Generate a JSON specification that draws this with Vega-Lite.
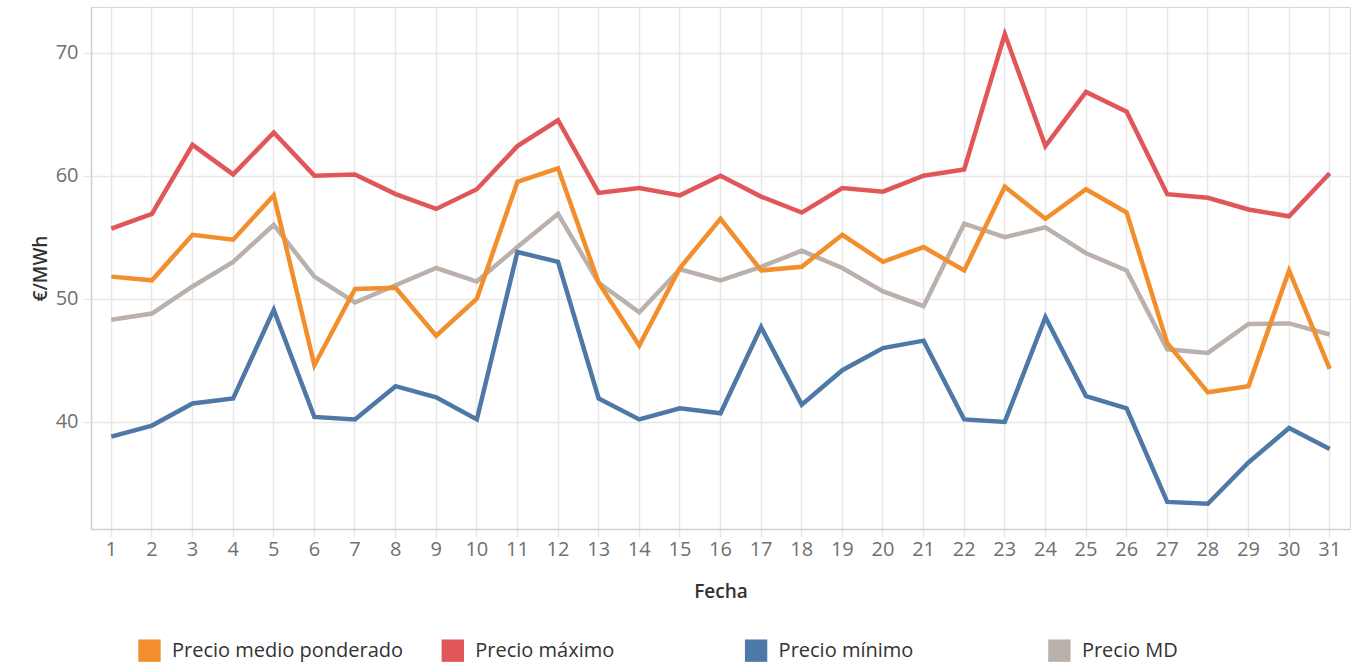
{
  "$schema": "https://vega.github.io/schema/vega-lite/v6.json",
  "width": 1259,
  "height": 522,
  "autosize": {"type": "none"},
  "padding": {"left": 91, "top": 7, "right": 8, "bottom": 134},
  "background": "white",
  "config": {
    "font": "Open Sans",
    "view": {"stroke": "#d6d6d6", "strokeWidth": 1},
    "axis": {
      "labelFont": "Open Sans",
      "titleFont": "Open Sans",
      "labelFontSize": 20,
      "labelColor": "#707070",
      "titleFontSize": 19,
      "titleColor": "#333333",
      "titleFontWeight": 600,
      "domainColor": "#d0d0d0",
      "domainWidth": 1.5,
      "gridColor": "#e8e8e8",
      "gridWidth": 1.5,
      "tickColor": "#e8e8e8",
      "tickWidth": 1.5,
      "tickSize": 8
    },
    "legend": {
      "labelFont": "Open Sans",
      "labelFontSize": 20,
      "labelColor": "#333333"
    }
  },
  "data": {
    "values": [
      {"Fecha": 1, "Precio medio ponderado": 51.8, "Precio máximo": 55.7, "Precio mínimo": 38.8, "Precio MD": 48.3},
      {"Fecha": 2, "Precio medio ponderado": 51.5, "Precio máximo": 56.9, "Precio mínimo": 39.7, "Precio MD": 48.8},
      {"Fecha": 3, "Precio medio ponderado": 55.2, "Precio máximo": 62.5, "Precio mínimo": 41.5, "Precio MD": 51.0},
      {"Fecha": 4, "Precio medio ponderado": 54.8, "Precio máximo": 60.1, "Precio mínimo": 41.9, "Precio MD": 53.0},
      {"Fecha": 5, "Precio medio ponderado": 58.4, "Precio máximo": 63.5, "Precio mínimo": 49.1, "Precio MD": 56.0},
      {"Fecha": 6, "Precio medio ponderado": 44.6, "Precio máximo": 60.0, "Precio mínimo": 40.4, "Precio MD": 51.8},
      {"Fecha": 7, "Precio medio ponderado": 50.8, "Precio máximo": 60.1, "Precio mínimo": 40.2, "Precio MD": 49.7},
      {"Fecha": 8, "Precio medio ponderado": 50.9, "Precio máximo": 58.5, "Precio mínimo": 42.9, "Precio MD": 51.1},
      {"Fecha": 9, "Precio medio ponderado": 47.0, "Precio máximo": 57.3, "Precio mínimo": 42.0, "Precio MD": 52.5},
      {"Fecha": 10, "Precio medio ponderado": 50.0, "Precio máximo": 58.9, "Precio mínimo": 40.2, "Precio MD": 51.4},
      {"Fecha": 11, "Precio medio ponderado": 59.5, "Precio máximo": 62.4, "Precio mínimo": 53.8, "Precio MD": 54.2},
      {"Fecha": 12, "Precio medio ponderado": 60.6, "Precio máximo": 64.5, "Precio mínimo": 53.0, "Precio MD": 56.9},
      {"Fecha": 13, "Precio medio ponderado": 51.3, "Precio máximo": 58.6, "Precio mínimo": 41.9, "Precio MD": 51.3},
      {"Fecha": 14, "Precio medio ponderado": 46.2, "Precio máximo": 59.0, "Precio mínimo": 40.2, "Precio MD": 48.9},
      {"Fecha": 15, "Precio medio ponderado": 52.5, "Precio máximo": 58.4, "Precio mínimo": 41.1, "Precio MD": 52.4},
      {"Fecha": 16, "Precio medio ponderado": 56.5, "Precio máximo": 60.0, "Precio mínimo": 40.7, "Precio MD": 51.5},
      {"Fecha": 17, "Precio medio ponderado": 52.3, "Precio máximo": 58.3, "Precio mínimo": 47.7, "Precio MD": 52.6},
      {"Fecha": 18, "Precio medio ponderado": 52.6, "Precio máximo": 57.0, "Precio mínimo": 41.4, "Precio MD": 53.9},
      {"Fecha": 19, "Precio medio ponderado": 55.2, "Precio máximo": 59.0, "Precio mínimo": 44.2, "Precio MD": 52.5},
      {"Fecha": 20, "Precio medio ponderado": 53.0, "Precio máximo": 58.7, "Precio mínimo": 46.0, "Precio MD": 50.6},
      {"Fecha": 21, "Precio medio ponderado": 54.2, "Precio máximo": 60.0, "Precio mínimo": 46.6, "Precio MD": 49.4},
      {"Fecha": 22, "Precio medio ponderado": 52.3, "Precio máximo": 60.5, "Precio mínimo": 40.2, "Precio MD": 56.1},
      {"Fecha": 23, "Precio medio ponderado": 59.1, "Precio máximo": 71.5, "Precio mínimo": 40.0, "Precio MD": 55.0},
      {"Fecha": 24, "Precio medio ponderado": 56.5, "Precio máximo": 62.4, "Precio mínimo": 48.5, "Precio MD": 55.8},
      {"Fecha": 25, "Precio medio ponderado": 58.9, "Precio máximo": 66.8, "Precio mínimo": 42.1, "Precio MD": 53.7},
      {"Fecha": 26, "Precio medio ponderado": 57.0, "Precio máximo": 65.2, "Precio mínimo": 41.1, "Precio MD": 52.3},
      {"Fecha": 27, "Precio medio ponderado": 46.4, "Precio máximo": 58.5, "Precio mínimo": 33.5, "Precio MD": 45.9},
      {"Fecha": 28, "Precio medio ponderado": 42.4, "Precio máximo": 58.2, "Precio mínimo": 33.35, "Precio MD": 45.6},
      {"Fecha": 29, "Precio medio ponderado": 42.9, "Precio máximo": 57.25, "Precio mínimo": 36.7, "Precio MD": 47.95},
      {"Fecha": 30, "Precio medio ponderado": 52.3, "Precio máximo": 56.7, "Precio mínimo": 39.5, "Precio MD": 48.0},
      {"Fecha": 31, "Precio medio ponderado": 44.3, "Precio máximo": 60.2, "Precio mínimo": 37.8, "Precio MD": 47.1}
    ]
  },
  "transform": [
    {"fold": ["Precio MD", "Precio mínimo", "Precio máximo", "Precio medio ponderado"], "as": ["Serie", "Valor"]}
  ],
  "mark": {"type": "line", "strokeWidth": 4.5, "strokeJoin": "miter"},
  "encoding": {
    "x": {
      "field": "Fecha",
      "type": "ordinal",
      "bandPosition": 0.5,
      "scale": {"type": "band", "paddingInner": 0, "paddingOuter": 0},
      "axis": {
        "title": "Fecha",
        "labelAngle": 0,
        "labelPadding": 2,
        "titlePadding": 23,
        "grid": true,
        "domain": true
      }
    },
    "y": {
      "field": "Valor",
      "type": "quantitative",
      "scale": {"domain": [31.3, 73.7], "nice": false, "zero": false},
      "axis": {
        "title": "€/MWh",
        "values": [40, 50, 60, 70],
        "labelPadding": 5,
        "titlePadding": 5,
        "grid": true
      }
    },
    "color": {
      "field": "Serie",
      "type": "nominal",
      "scale": {
        "domain": ["Precio medio ponderado", "Precio máximo", "Precio mínimo", "Precio MD"],
        "range": ["#F28E2B", "#E15759", "#4E79A7", "#BAB0AC"]
      },
      "legend": {
        "title": null,
        "orient": "none",
        "legendX": 47,
        "legendY": 632,
        "direction": "horizontal",
        "columns": 4,
        "gridAlign": "all",
        "columnPadding": 37.3,
        "symbolType": "square",
        "symbolSize": 500,
        "symbolStrokeWidth": 0,
        "symbolOpacity": 1,
        "labelOffset": 11,
        "labelLimit": 400,
        "padding": 0,
        "encode": {
          "symbols": {
            "update": {
              "fill": {"scale": "color", "field": "value"},
              "strokeWidth": {"value": 0}
            }
          }
        }
      }
    }
  }
}
